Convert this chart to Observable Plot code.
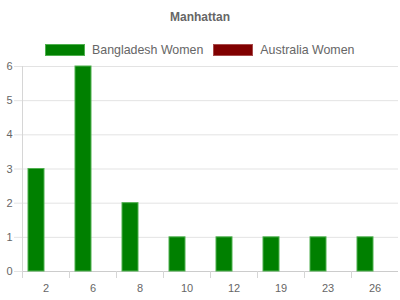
<!DOCTYPE html>
<html><head><meta charset="utf-8">
<script src="https://cdn.jsdelivr.net/npm/d3@7"></script>
<script src="https://cdn.jsdelivr.net/npm/@observablehq/plot@0.6"></script>
<style>
body{margin:0;width:400px;height:300px;position:relative;overflow:hidden;font-family:"Liberation Sans",Arial,sans-serif;background:#fff}
#title{position:absolute;top:10px;left:0;width:400px;text-align:center;font-weight:bold;font-size:12px;color:#666}
#legend{position:absolute;top:43px;left:45px;display:flex;align-items:center;font-size:12.4px;color:#666;white-space:nowrap}
.item{display:flex;align-items:center;margin-right:10px}
.sw{width:38px;height:10px;border:1px solid;margin-right:7px}
#chart{position:absolute;top:56px;left:0}
</style></head><body>
<div id="title"></div>
<div id="legend"></div>
<div id="chart"></div>
<script>
const title = "Manhattan";
const categories = ["2", "6", "8", "10", "12", "19", "23", "26"];
const seriesNames = ["Bangladesh Women", "Australia Women"];
const bangladesh = [3, 6, 2, 1, 1, 1, 1, 1];
const australia = [0, 0, 0, 0, 0, 0, 0, 0];
const yTicks = [0, 1, 2, 3, 4, 5, 6];
const fills = ["#008000", "#800000"];
const strokes = ["#4fb04f", "#a84a4a"];

const seriesValues = [bangladesh, australia];
const data = [];
categories.forEach((c, i) => {
  seriesNames.forEach((s, j) => data.push({cat: c, series: s, value: seriesValues[j][i]}));
});

document.getElementById("title").textContent = title;
const legend = document.getElementById("legend");
seriesNames.forEach((s, j) => {
  const it = document.createElement("div"); it.className = "item";
  const sw = document.createElement("div"); sw.className = "sw";
  sw.style.background = fills[j]; sw.style.borderColor = strokes[j];
  const t = document.createElement("span"); t.textContent = s;
  it.appendChild(sw); it.appendChild(t); legend.appendChild(it);
});

const plot = Plot.plot({
  width: 400, height: 244,
  marginTop: 10, marginBottom: 29, marginLeft: 21, marginRight: 1,
  style: {fontFamily: "'Liberation Sans', Arial, sans-serif", fontSize: "11px", color: "#666", background: "transparent"},
  fx: {domain: categories, paddingInner: 0, paddingOuter: 0, label: null},
  x: {domain: seriesNames, paddingInner: 0.1, paddingOuter: 0.3},
  y: {domain: [0, 6]},
  marks: [
    Plot.gridY(yTicks, {stroke: "#e3e3e3", strokeOpacity: 1}),
    Plot.axisY(yTicks, {anchor: "left", tickSize: 8, tickPadding: 2, stroke: "#e3e3e3", fill: "#666", label: null}),
    Plot.axisX({ticks: [], label: null}),
    Plot.axisFx({anchor: "bottom", tickSize: 0, tickPadding: 13, fill: "#666", label: null}),
    Plot.ruleY([0], {stroke: "#cccccc"}),
    ...seriesNames.map((s, j) => Plot.barY(data.filter(d => d.series === s && d.value > 0), {
      fx: "cat", x: "series", y: "value", fill: fills[j], stroke: strokes[j], strokeWidth: 1
    }))
  ]
});

// band boundary ticks and left axis line, from Plot's fx scale
const fx = plot.scale("fx");
const yS = plot.scale("y");
const g = d3.select(plot).append("g").attr("stroke", "#d6d6d6");
const y0 = yS.apply(0), yTop = yS.apply(6);
categories.forEach((c, i) => {
  const x = Math.round(fx.apply(c)) + 0.5;
  g.append("line").attr("x1", x).attr("x2", x)
    .attr("y1", i === 0 ? yTop : y0).attr("y2", y0 + 7);
});
document.getElementById("chart").appendChild(plot);
</script>
</body></html>
